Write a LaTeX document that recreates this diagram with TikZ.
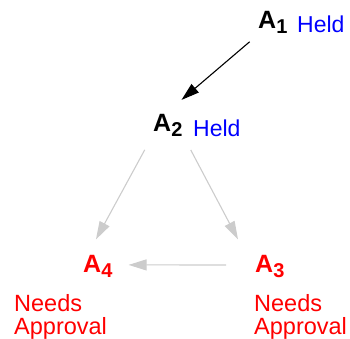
\documentclass[tikz,border=0pt]{standalone}
\usepackage{fontspec}
\setmainfont{Liberation Sans}
\usetikzlibrary{arrows.meta,positioning,calc}
\definecolor{heldblue}{RGB}{0,0,255}
\definecolor{needred}{RGB}{255,0,0}
\definecolor{edgegray}{RGB}{204,204,204}
\newcommand{\actname}[1]{\textbf{A\raisebox{-5pt}{\fontsize{20}{20}\selectfont #1}}}
\tikzstyle{act} = [inner sep=3pt, anchor=base west, font=\fontsize{25}{26}\selectfont]
\tikzstyle{held} = [inner sep=0pt, anchor=base west, text=heldblue, font=\fontsize{23}{24}\selectfont]
\tikzstyle{need} = [inner sep=0pt, anchor=base west, align=left, text=needred, font=\fontsize{23.5}{23}\selectfont]
\tikzstyle{line} = [draw, line width=1.1pt, -{Triangle[length=18pt,width=11pt]}]
\tikzstyle{grayline} = [line, edgegray]

\begin{document}
\begin{tikzpicture}[x=1pt, y=1pt]
    \useasboundingbox (0,0) rectangle (350,339);
    \node [act] (a1) at (255,310) {\actname{1}};
    \node [held] (a1held) at (297,306) {Held};
    \node [act] (a2) at (150,207) {\actname{2}};
    \node [held] (a2held) at (193,202) {Held};
    \node [act, text=needred] (a4) at (80,66) {\actname{4}};
    \node [act, text=needred] (a3) at (252,66) {\actname{3}};
    \node [need] (a4need) at (14,4) {Needs\\Approval};
    \node [need] (a3need) at (254,4) {Needs\\Approval};

    \path [line, shorten <=7pt, shorten >=18pt] (a1.south west) -- (a2.north);
    \path [grayline, shorten <=11pt, shorten >=15pt] (a2.south west) -- ([xshift=-9pt]a4.north);
    \path [grayline, shorten <=11pt, shorten >=15pt] (a2.south east) -- ([xshift=-7pt]a3.north west);
    \path [grayline, shorten <=26pt, shorten >=13pt] ([yshift=2pt]a3.west) -- ([yshift=2pt]a4.east);
\end{tikzpicture}
\end{document}
